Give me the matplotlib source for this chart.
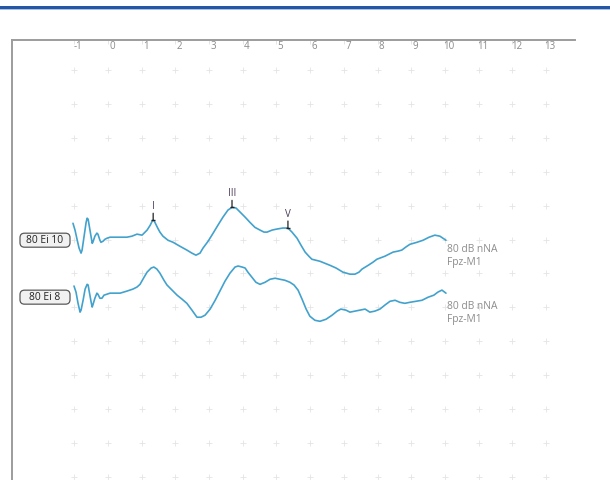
import matplotlib
matplotlib.use("Agg")
import matplotlib.pyplot as plt
from matplotlib.patches import Rectangle, FancyBboxPatch

plt.rcParams['font.family'] = ['Open Sans', 'DejaVu Sans']

# ---- data -------------------------------------------------------------
tick_ms = [-1, 0, 1, 2, 3, 4, 5, 6, 7, 8, 9, 10, 11, 12, 13]

# trace 1: 80 Ei 10   (latency in ms, amplitude in display divisions)
t1_ms = [-1.04, -0.98, -0.92, -0.86, -0.80, -0.77, -0.71, -0.65, -0.62, -0.59,
         -0.56, -0.50, -0.47, -0.45, -0.39, -0.33, -0.30, -0.24, -0.21, -0.15,
         -0.09, -0.03, 0.06, 0.15, 0.36, 0.56, 0.71, 0.86, 1.01, 1.16,
         1.25, 1.31, 1.34, 1.37, 1.42, 1.48, 1.54, 1.63, 1.78, 1.93,
         2.14, 2.34, 2.49, 2.61, 2.73, 2.82, 2.97, 3.12, 3.26, 3.41,
         3.56, 3.68, 3.80, 3.92, 4.07, 4.21, 4.36, 4.51, 4.63, 4.72,
         4.87, 5.01, 5.19, 5.34, 5.46, 5.61, 5.73, 5.85, 5.96, 6.05,
         6.29, 6.59, 6.77, 6.97, 7.18, 7.33, 7.45, 7.54, 7.72, 7.86,
         7.98, 8.22, 8.46, 8.61, 8.72, 8.84, 8.96, 9.17, 9.35, 9.53,
         9.70, 9.85, 9.94, 10.03]
t1_amp = [0.41, 0.21, -0.06, -0.32, -0.47, -0.38, 0.03, 0.44, 0.56, 0.53,
          0.35, 0.00, -0.18, -0.15, 0.03, 0.12, 0.09, -0.09, -0.15, -0.12,
          -0.06, -0.03, 0.00, 0.00, 0.00, 0.00, 0.03, 0.09, 0.06, 0.21,
          0.35, 0.47, 0.50, 0.48, 0.38, 0.26, 0.15, 0.03, -0.09, -0.15,
          -0.27, -0.38, -0.47, -0.53, -0.47, -0.32, -0.12, 0.12, 0.35, 0.59,
          0.80, 0.88, 0.86, 0.74, 0.59, 0.44, 0.29, 0.21, 0.15, 0.15,
          0.21, 0.24, 0.27, 0.27, 0.15, -0.03, -0.24, -0.44, -0.56, -0.65,
          -0.71, -0.83, -0.91, -1.03, -1.09, -1.09, -1.03, -0.94, -0.83, -0.74,
          -0.65, -0.56, -0.44, -0.41, -0.38, -0.29, -0.21, -0.15, -0.09, 0.00,
          0.06, 0.03, -0.03, -0.09]

# trace 2: 80 Ei 8
t2_ms = [-1.01, -0.95, -0.89, -0.83, -0.80, -0.74, -0.68, -0.62, -0.59, -0.56,
         -0.50, -0.47, -0.45, -0.39, -0.33, -0.30, -0.24, -0.18, -0.12, -0.03,
         0.06, 0.36, 0.56, 0.74, 0.86, 0.95, 1.07, 1.16, 1.28, 1.36,
         1.45, 1.54, 1.66, 1.75, 1.90, 2.05, 2.20, 2.34, 2.49, 2.64,
         2.76, 2.88, 3.03, 3.18, 3.32, 3.47, 3.62, 3.77, 3.86, 3.98,
         4.07, 4.15, 4.27, 4.39, 4.51, 4.66, 4.81, 4.96, 5.10, 5.25,
         5.40, 5.52, 5.64, 5.76, 5.88, 5.99, 6.14, 6.29, 6.47, 6.65,
         6.80, 6.91, 7.06, 7.18, 7.33, 7.48, 7.63, 7.77, 7.92, 8.07,
         8.22, 8.37, 8.52, 8.66, 8.81, 8.96, 9.14, 9.32, 9.50, 9.67,
         9.79, 9.91, 10.03]
t2_amp = [0.24, 0.06, -0.27, -0.53, -0.47, -0.18, 0.15, 0.29, 0.27, 0.09,
          -0.24, -0.38, -0.32, -0.12, 0.03, 0.00, -0.12, -0.12, -0.03, 0.00,
          0.03, 0.03, 0.09, 0.15, 0.21, 0.29, 0.50, 0.65, 0.77, 0.80,
          0.74, 0.62, 0.41, 0.27, 0.12, -0.03, -0.15, -0.27, -0.47, -0.68,
          -0.68, -0.62, -0.44, -0.18, 0.09, 0.38, 0.62, 0.80, 0.83, 0.80,
          0.77, 0.65, 0.50, 0.35, 0.29, 0.35, 0.44, 0.47, 0.44, 0.41,
          0.35, 0.27, 0.12, -0.15, -0.44, -0.65, -0.77, -0.80, -0.74, -0.62,
          -0.50, -0.44, -0.47, -0.53, -0.50, -0.47, -0.44, -0.53, -0.50, -0.44,
          -0.32, -0.21, -0.18, -0.24, -0.27, -0.24, -0.21, -0.18, -0.09, -0.03,
          0.06, 0.12, 0.03]

traces = [(t1_ms, t1_amp), (t2_ms, t2_amp)]
trace_names = ["80 Ei 10", "80 Ei 8"]
trace_info = ["80 dB nNA\nFpz-M1", "80 dB nNA\nFpz-M1"]
baselines = [4.93, 6.61]          # vertical position of each trace (divisions)

# wave markers on trace 1
peak_names = ["I", "III", "V"]
peak_ms = [1.34, 3.68, 5.34]
peak_amp = [0.50, 0.88, 0.27]

grid_rows = list(range(13))

# ---- figure -----------------------------------------------------------
W, H, DPI = 610, 480, 100
fig = plt.figure(figsize=(W / DPI, H / DPI), dpi=DPI)
fig.patch.set_facecolor("white")

# header band
fig.add_artist(Rectangle((0, 1 - 8.8 / H), 1, 3.0 / H, transform=fig.transFigure,
                         facecolor="#2557a6", edgecolor="none"))
fig.add_artist(Rectangle((0, 1 - 10.3 / H), 1, 1.5 / H, transform=fig.transFigure,
                         facecolor="#a9c2e4", edgecolor="none"))

ax = fig.add_axes([12 / W, 0, 563 / W, 440 / H])
ax.set_xlim(-2.85, 13.86)
ax.set_ylim(12.09, -0.885)
ax.set_facecolor("white")
for side in ("right", "bottom"):
    ax.spines[side].set_visible(False)
for side in ("top", "left"):
    ax.spines[side].set_color("#9c9c9c")
    ax.spines[side].set_linewidth(1.4)

ax.xaxis.tick_top()
ax.set_xticks(tick_ms)
ax.tick_params(axis="x", top=True, direction="in", length=3, width=0.6,
               color="#e0e0e0", labeltop=False)
ax.set_yticks([])

# tick labels just under the top border
for t in tick_ms:
    ax.text(t + 0.12, -0.70, str(t), ha="center", va="center",
            fontsize=7.0, color="#8a8a8a")

# grid crosses
gx = [t for r in grid_rows for t in tick_ms]
gy = [r for r in grid_rows for t in tick_ms]
ax.plot(gx, gy, linestyle="none", marker="+", markersize=4.5, mew=0.6,
        color="#e4e4e4", zorder=1)

trace_color = "#42a2cd"
for (ms, amp), base in zip(traces, baselines):
    ax.plot(ms, [base - a for a in amp], color=trace_color, lw=1.2, zorder=3,
            solid_joinstyle="round", solid_capstyle="round")

# wave markers
for name, t, a in zip(peak_names, peak_ms, peak_amp):
    y = baselines[0] - a
    ax.annotate("", xy=(t, y), xytext=(0, 7), textcoords="offset pixels",
                arrowprops=dict(arrowstyle="-", color="#222222", lw=0.9,
                                shrinkA=0, shrinkB=0), zorder=4)
    ax.plot([t], [y], marker="_", markersize=3.5, mew=1.0, color="#222222", zorder=4)
    ax.annotate(name, xy=(t, y), xytext=(0, 14), textcoords="offset pixels",
                ha="center", va="center", fontsize=7.0, color="#4a3a58", zorder=4)

# right-hand channel info
for (ms, amp), base, info in zip(traces, baselines, trace_info):
    ax.annotate(info, xy=(ms[-1], base), xytext=(1, -19), textcoords="offset pixels",
                ha="left", va="center", fontsize=7.4, color="#8c8c8c",
                linespacing=1.2)

# left-hand trace name boxes
for base, name in zip(baselines, trace_names):
    yc = ax.transData.transform((0, base))[1] / DPI - 0.03
    box = FancyBboxPatch((0.20, yc - 0.07), 0.50, 0.14,
                         boxstyle="round,pad=0,rounding_size=0.045",
                         transform=fig.dpi_scale_trans, facecolor="#f1f1f1",
                         edgecolor="#5a5a5a", linewidth=0.9, zorder=5)
    fig.add_artist(box)
    fig.text(0.45, yc, name, transform=fig.dpi_scale_trans, ha="center",
             va="center", fontsize=7.4, color="#222222", zorder=6)

fig.savefig("out.png", dpi=DPI, facecolor="white")
